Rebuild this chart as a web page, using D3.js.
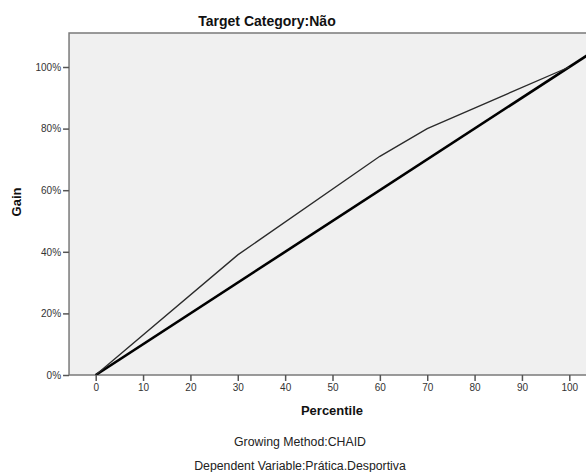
<!DOCTYPE html>
<html>
<head>
<meta charset="utf-8">
<script src="https://cdn.jsdelivr.net/npm/d3@7"></script>
<style>
html,body{margin:0;padding:0;background:#fff;}
svg{display:block;font-family:"Liberation Sans",Arial,sans-serif;}
</style>
</head>
<body>
<svg id="chart" width="586" height="472"></svg>
<script>
// Data
const percentiles = [0, 30, 60, 70, 100];
const gainValues = [0, 39, 71, 80, 100];
const baselineX = [0, 106];
const baselineY = [0, 106];
const xTicks = [0, 10, 20, 30, 40, 50, 60, 70, 80, 90, 100];
const yTicks = [0, 20, 40, 60, 80, 100];
const titleText = "Target Category:Não";
const xLabel = "Percentile";
const yLabel = "Gain";
const footnotes = ["Growing Method:CHAID", "Dependent Variable:Prática.Desportiva"];

(function () {
const svg = d3.select("#chart");
const x = d3.scaleLinear().domain([0, 100]).range([95.7, 569.3]);
const y = d3.scaleLinear().domain([0, 100]).range([375, 67]);

const pL = x(-5.63), pR = 600, pT = y(111), pB = y(0);

svg.append("rect").attr("x", pL).attr("y", pT).attr("width", pR - pL).attr("height", pB - pT)
  .attr("fill", "#f0f0f0");

svg.append("defs").append("clipPath").attr("id", "clip")
  .append("rect").attr("x", pL).attr("y", pT).attr("width", pR - pL).attr("height", pB - pT);

// border lines
svg.append("path").attr("d", `M${pR},${pT}H${pL}V${pB}H${pR}`)
  .attr("fill", "none").attr("stroke", "#7a7a7a").attr("stroke-width", 1.5);

// axes
const yAxis = d3.axisLeft(y).tickValues(yTicks).tickFormat(d => d + "%").tickSize(6).tickPadding(2);
const gy = svg.append("g").attr("transform", `translate(${pL},0)`).call(yAxis);
gy.select(".domain").remove();
gy.selectAll(".tick line").attr("stroke", "#555").attr("stroke-width", 1.5);
gy.selectAll(".tick text").attr("font-size", 10).attr("fill", "#333").attr("font-family", "Liberation Sans, Arial, sans-serif");

const xAxis = d3.axisBottom(x).tickValues(xTicks).tickSize(6).tickPadding(3);
const gx = svg.append("g").attr("transform", `translate(0,${pB})`).call(xAxis);
gx.select(".domain").remove();
gx.selectAll(".tick line").attr("stroke", "#555").attr("stroke-width", 1.5);
gx.selectAll(".tick text").attr("font-size", 10).attr("fill", "#333").attr("font-family", "Liberation Sans, Arial, sans-serif");

// lines
const g = svg.append("g").attr("clip-path", "url(#clip)");
const line = d3.line().x(d => x(d[0])).y(d => y(d[1]));
g.append("path").datum(baselineX.map((v, i) => [v, baselineY[i]]))
  .attr("d", line).attr("fill", "none").attr("stroke", "#000").attr("stroke-width", 2.6);
g.append("path").datum(percentiles.map((v, i) => [v, gainValues[i]]))
  .attr("d", line).attr("fill", "none").attr("stroke", "#2a2a2a").attr("stroke-width", 1.3);

// texts
svg.append("text").attr("x", 267).attr("y", 26).attr("text-anchor", "middle")
  .attr("font-size", 14).attr("font-weight", "bold").attr("fill", "#111").text(titleText);
svg.append("text").attr("transform", "translate(21,202) rotate(-90)").attr("text-anchor", "middle")
  .attr("font-size", 13).attr("font-weight", "bold").attr("fill", "#111").text(yLabel);
svg.append("text").attr("x", 332).attr("y", 415).attr("text-anchor", "middle")
  .attr("font-size", 13).attr("font-weight", "bold").attr("fill", "#111").text(xLabel);
svg.selectAll(".foot").data(footnotes).enter().append("text")
  .attr("x", 300).attr("y", (d, i) => 446 + i * 24).attr("text-anchor", "middle")
  .attr("font-size", 12.3).attr("fill", "#222").text(d => d);
})();
</script>
</body>
</html>
